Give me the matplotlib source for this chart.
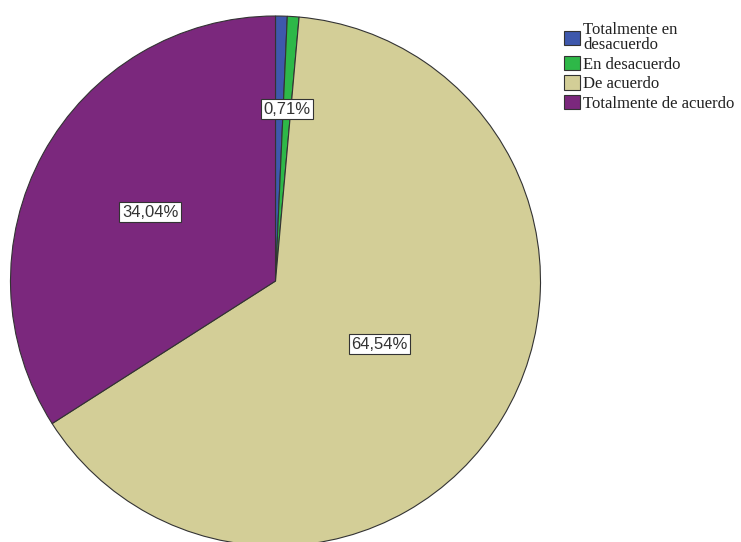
import matplotlib.pyplot as plt
import numpy as np

# respuestas y porcentajes
categorias = ['Totalmente en\ndesacuerdo', 'En desacuerdo', 'De acuerdo', 'Totalmente de acuerdo']
porcentajes = [0.71, 0.71, 64.54, 34.04]
colores = ['#3e58ac', '#2eb848', '#d3ce97', '#7b287d']
# which wedges get a visible label and how far out from the centre
mostrar = [False, True, True, True]
distancia = [0.65, 0.65, 0.46, 0.54]

fig = plt.figure(figsize=(7.41, 5.42), dpi=100)
ax = fig.add_axes([10.5 / 741, -4 / 542, 530 / 741, 530 / 542])

wedges, _ = ax.pie(porcentajes, colors=colores, startangle=90, counterclock=False,
                   radius=1, wedgeprops={'edgecolor': '#333333', 'linewidth': 0.8})
ax.set_xlim(-1, 1)
ax.set_ylim(-1, 1)
ax.set_aspect('equal')

for w, p, m, d in zip(wedges, porcentajes, mostrar, distancia):
    if not m:
        continue
    ang = np.deg2rad((w.theta1 + w.theta2) / 2)
    txt = ('%.2f%%' % p).replace('.', ',')
    ax.text(d * np.cos(ang), d * np.sin(ang), txt, ha='center', va='center',
            fontsize=12, family='Liberation Sans', color='#333333',
            bbox=dict(boxstyle='square,pad=0.15', fc='white', ec='#333333', lw=0.8))

leg = fig.legend(wedges, categorias, loc='upper left', bbox_to_anchor=(564 / 741, 1 - 22 / 542),
                 frameon=False, prop={'family': 'Liberation Serif', 'size': 12},
                 handlelength=0.95, handleheight=0.95, handletextpad=0.2, labelspacing=0.15,
                 borderpad=0, borderaxespad=0)
for t in leg.get_texts():
    t.set_linespacing(0.95)
    t.set_color('#222222')

fig.savefig('out.png', dpi=100)
